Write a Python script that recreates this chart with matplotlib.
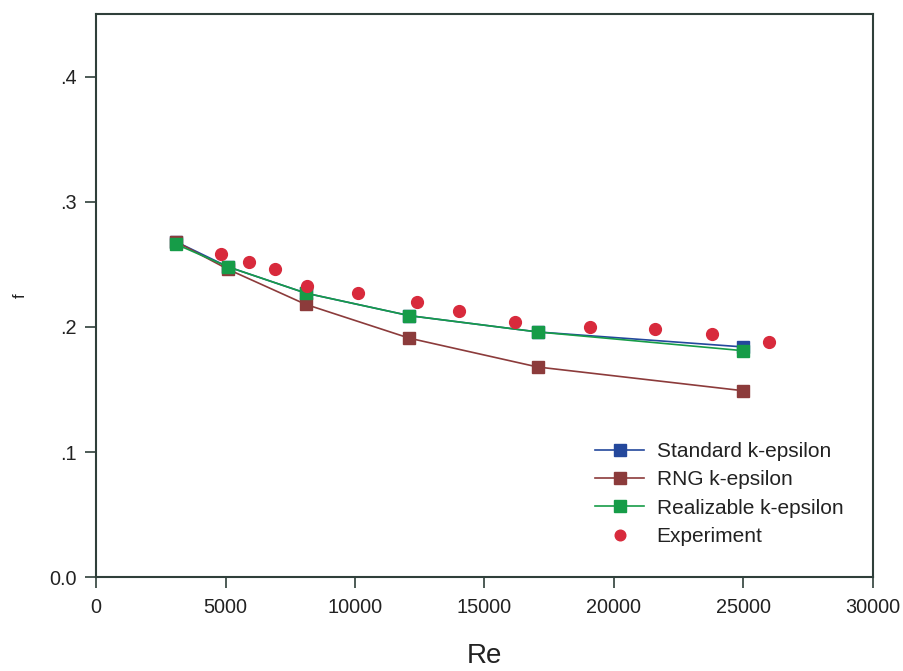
import matplotlib
matplotlib.use("Agg")
import matplotlib.pyplot as plt

plt.rcParams['font.family'] = ['Liberation Sans', 'DejaVu Sans']

re_sim = [3100, 5100, 8100, 12100, 17050, 25000]
f_standard = [0.268, 0.248, 0.227, 0.209, 0.196, 0.184]
f_rng = [0.268, 0.246, 0.218, 0.191, 0.168, 0.149]
f_realizable = [0.266, 0.248, 0.227, 0.209, 0.196, 0.181]

re_exp = [4840, 5900, 6920, 8150, 10100, 12390, 14020, 16180, 19090, 21600, 23780, 25990]
f_exp = [0.258, 0.252, 0.246, 0.233, 0.227, 0.220, 0.213, 0.204, 0.200, 0.198, 0.194, 0.188]

x_ticks = [0, 5000, 10000, 15000, 20000, 25000, 30000]
y_ticks = [0.0, 0.1, 0.2, 0.3, 0.4]
y_tick_labels = ['0.0', '.1', '.2', '.3', '.4']

c_blue = '#24489c'
c_brown = '#8c3b3b'
c_green = '#169c48'
c_red = '#d82a3c'

fig = plt.figure(figsize=(9.04, 6.71), dpi=100)
ax = fig.add_axes([0.1062, 0.1397, 0.8595, 0.8394])

ax.plot(re_sim, f_standard, '-s', color=c_blue, lw=1.2, ms=9, mec=c_blue, label='Standard k-epsilon', zorder=3)
ax.plot(re_sim, f_rng, '-s', color=c_brown, lw=1.2, ms=9, mec=c_brown, label='RNG k-epsilon', zorder=3)
ax.plot(re_sim, f_realizable, '-s', color=c_green, lw=1.2, ms=9, mec=c_green, label='Realizable k-epsilon', zorder=4)
ax.plot(re_exp, f_exp, 'o', color=c_red, ms=8.5, mec=c_red, ls='none', label='Experiment', zorder=5)

ax.set_xlim(0, 30000)
ax.set_ylim(0, 0.45)
ax.set_xticks(x_ticks)
ax.set_yticks(y_ticks)
ax.set_yticklabels(y_tick_labels)
ax.tick_params(axis='both', direction='out', length=8, width=1.2, color='#2f3f3a',
               labelsize=14.3, labelcolor='#222222', pad=6)
ax.tick_params(axis='x', pad=7)
for s in ax.spines.values():
    s.set_color('#2f3f3a')
    s.set_linewidth(1.5)

ax.set_xlabel('Re', fontsize=20, color='#222222', labelpad=19)
ax.set_ylabel('f', fontsize=12, color='#222222')
ax.yaxis.set_label_coords(-0.088, 0.5)

leg = ax.legend(loc='lower right', bbox_to_anchor=(0.986, 0.022), frameon=False,
                fontsize=15, handlelength=2.35, handletextpad=0.6, labelspacing=0.45,
                markerscale=0.9)
for t in leg.get_texts():
    t.set_color('#222222')

fig.savefig('out.png', dpi=100)
